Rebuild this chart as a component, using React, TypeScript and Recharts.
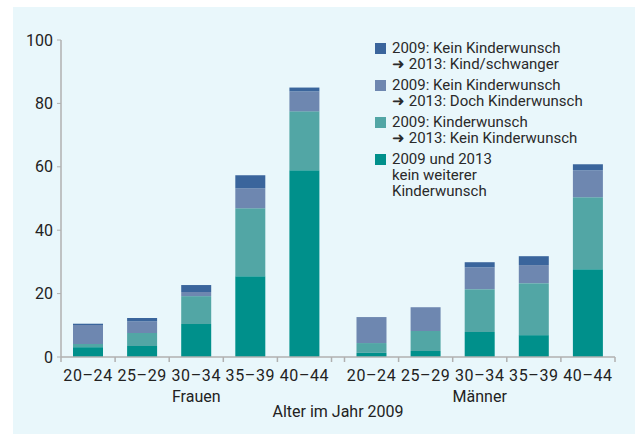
import React from 'react';
import { BarChart, Bar, XAxis, YAxis, Legend, Label } from 'recharts';

// Altersgruppen und Geschlecht
const ageGroups = ['20–24', '25–29', '30–34', '35–39', '40–44'];
const genders = ['Frauen', 'Männer'];

// Werte in Prozent, Frauen 20–24 ... 40–44, dann Männer 20–24 ... 40–44
const keinWeiterer = [3.1, 3.5, 10.4, 25.5, 58.9, 1.3, 1.9, 7.9, 6.9, 27.7];
const wunschZuKein = [1.0, 4.1, 8.8, 21.4, 18.6, 3.1, 6.3, 13.5, 16.4, 22.7];
const dochWunsch = [6.0, 3.7, 1.3, 6.3, 6.3, 8.2, 7.5, 6.9, 5.7, 8.5];
const kindSchwanger = [0.4, 1.0, 2.2, 4.1, 1.2, 0, 0, 1.6, 2.8, 1.9];

const yTicks = [0, 20, 40, 60, 80, 100];

// Reihen von oben (Legende) nach unten
const series = [
  { key: 'kindSchwanger', name: '2009: Kein Kinderwunsch\n➜ 2013: Kind/schwanger', color: '#3a659c' },
  { key: 'dochWunsch', name: '2009: Kein Kinderwunsch\n➜ 2013: Doch Kinderwunsch', color: '#6e87b0' },
  { key: 'wunschZuKein', name: '2009: Kinderwunsch\n➜ 2013: Kein Kinderwunsch', color: '#52a6a5' },
  { key: 'keinWeiterer', name: '2009 und 2013\nkein weiterer\nKinderwunsch', color: '#00908b' },
];

const GAP = 0.24; // Abstand zwischen Frauen und Männer
const groupWidth = ageGroups.length + GAP;

const data = genders.flatMap((g, gi) =>
  ageGroups.map((a, ai) => {
    const i = gi * ageGroups.length + ai;
    return {
      pos: gi * groupWidth + ai + 0.5,
      label: a,
      keinWeiterer: keinWeiterer[i],
      wunschZuKein: wunschZuKein[i],
      dochWunsch: dochWunsch[i],
      kindSchwanger: kindSchwanger[i],
    };
  })
);

const boundaryTicks = genders.flatMap((g, gi) =>
  Array.from({ length: ageGroups.length + 1 }, (_, k) => Number((gi * groupWidth + k).toFixed(2)))
);
const centerTicks = data.map((d) => d.pos);
const groupTicks = genders.map((g, gi) => gi * groupWidth + ageGroups.length / 2);
const domain: [number, number] = [0, genders.length * ageGroups.length + GAP];

const axisColor = '#b0b0b0';
const textColor = '#222';

const renderLegend = () => (
  <div style={{ fontSize: 15, lineHeight: '16px', color: '#2a2a2a' }}>
    {series.map((s) => (
      <div key={s.key} style={{ display: 'flex', alignItems: 'flex-start', marginBottom: 5 }}>
        <div style={{ width: 11, height: 11, background: s.color, marginTop: 2.5, marginRight: 6, flexShrink: 0 }} />
        <div style={{ whiteSpace: 'pre-line' }}>{s.name}</div>
      </div>
    ))}
  </div>
);

export default function App() {
  return (
    <div style={{ position: 'absolute', left: 0, top: 0, width: 635, height: 434, background: '#fff', fontFamily: 'Roboto, sans-serif' }}>
      <div style={{ position: 'absolute', left: 13, top: 7, right: 0, bottom: 0, background: '#e9f7fb' }} />
      <div style={{ position: 'absolute', left: 0, top: 0 }}>
        <BarChart width={635} height={434} data={data} margin={{ top: 40, right: 20, bottom: 0, left: 0 }}>
          <YAxis
            width={61}
            domain={[0, 100]}
            ticks={yTicks}
            tickSize={4}
            tickMargin={4}
            axisLine={{ stroke: axisColor, strokeWidth: 1.5 }}
            tickLine={{ stroke: axisColor }}
            tick={{ fontSize: 16, fill: textColor }}
          />
          <XAxis
            xAxisId="a"
            dataKey="pos"
            type="number"
            domain={domain}
            ticks={boundaryTicks}
            interval={0}
            height={8}
            tickSize={5}
            tickFormatter={() => ''}
            axisLine={{ stroke: axisColor, strokeWidth: 1.5 }}
            tickLine={{ stroke: axisColor, strokeWidth: 1.5 }}
          />
          <XAxis
            xAxisId="b"
            dataKey="pos"
            type="number"
            domain={domain}
            ticks={centerTicks}
            interval={0}
            height={24}
            tickSize={0}
            tickMargin={5}
            axisLine={false}
            tickLine={false}
            tickFormatter={(v: number, i: number) => data[i]?.label ?? ''}
            tick={{ fontSize: 16, fill: textColor, letterSpacing: 0.6 }}
          />
          <XAxis
            xAxisId="c"
            dataKey="pos"
            type="number"
            domain={domain}
            ticks={groupTicks}
            interval={0}
            height={45}
            tickSize={0}
            tickMargin={2}
            axisLine={false}
            tickLine={false}
            tickFormatter={(v: number, i: number) => genders[i] ?? ''}
            tick={{ fontSize: 16, fill: textColor }}
          >
            <Label value="Alter im Jahr 2009" position="insideBottom" offset={17} style={{ fontSize: 16, fill: textColor }} />
          </XAxis>
          {[...series].reverse().map((s) => (
            <Bar
              key={s.key}
              xAxisId="a"
              dataKey={s.key}
              name={s.name}
              stackId="s"
              fill={s.color}
              barSize={30}
              isAnimationActive={false}
            />
          ))}
          <Legend
            layout="vertical"
            align="center"
            verticalAlign="middle"
            wrapperStyle={{ left: 375, top: 40, width: 250, height: 'auto' }}
            content={renderLegend}
          />
        </BarChart>
      </div>
    </div>
  );
}
